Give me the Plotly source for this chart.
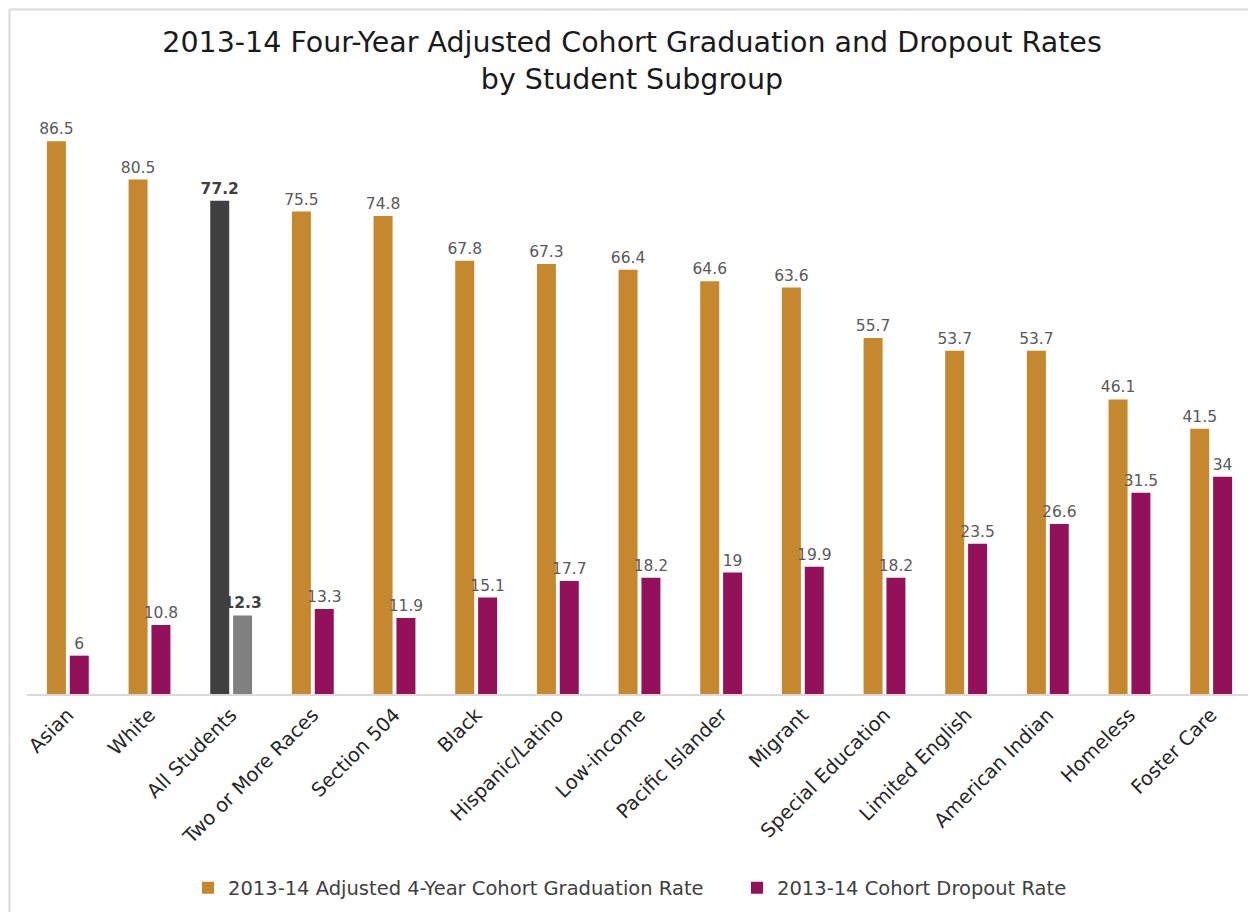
import plotly.graph_objects as go

categories = ["Asian", "White", "All Students", "Two or More Races", "Section 504", "Black",
              "Hispanic/Latino", "Low-income", "Pacific Islander", "Migrant",
              "Special Education", "Limited English", "American Indian", "Homeless", "Foster Care"]
grad_rate = [86.5, 80.5, 77.2, 75.5, 74.8, 67.8, 67.3, 66.4, 64.6, 63.6, 55.7, 53.7, 53.7, 46.1, 41.5]
dropout_rate = [6, 10.8, 12.3, 13.3, 11.9, 15.1, 17.7, 18.2, 19, 19.9, 18.2, 23.5, 26.6, 31.5, 34]
highlight = "All Students"

GOLD = "#C6882E"
PURPLE = "#93115A"
FONT = "DejaVu Sans"

# page body has an 8px margin; figure sized to fit the window
W, H = 1248, 904
L, R, T, B = 19, 4, 47, 218
PW, PH = W - L - R, H - T - B

def px_x(px):
    return (px - L) / PW

def px_y(py):
    return (H - B - py) / PH

def fmt(v):
    return f"{v:g}"

grad_colors = ["#404040" if c == highlight else GOLD for c in categories]
drop_colors = ["#808080" if c == highlight else PURPLE for c in categories]
grad_text = [f"<b>{fmt(v)}</b>" if c == highlight else fmt(v) for c, v in zip(categories, grad_rate)]
drop_text = [f"<b>{fmt(v)}</b>" if c == highlight else fmt(v) for c, v in zip(categories, dropout_rate)]
text_colors = ["#404040" if c == highlight else "#595959" for c in categories]

fig = go.Figure()
fig.add_trace(go.Bar(
    x=categories, y=grad_rate, name="2013-14 Adjusted 4-Year Cohort Graduation Rate",
    marker=dict(color=grad_colors, line=dict(width=0)),
    text=grad_text, textposition="outside", cliponaxis=False, constraintext="none",
    textfont=dict(size=15.5, color=text_colors, family=FONT),
    legend="legend",
))
fig.add_trace(go.Bar(
    x=categories, y=dropout_rate, name="2013-14 Cohort Dropout Rate",
    marker=dict(color=drop_colors, line=dict(width=0)),
    text=drop_text, textposition="outside", cliponaxis=False, constraintext="none",
    textfont=dict(size=15.5, color=text_colors, family=FONT),
    legend="legend2",
))

legend_common = dict(
    orientation="h", xanchor="left", yanchor="middle",
    font=dict(size=19.5, color="#404040", family=FONT),
    bgcolor="rgba(0,0,0,0)", borderwidth=0, itemwidth=30,
)

fig.update_layout(
    width=W, height=H,
    margin=dict(l=L, r=R, t=T, b=B, autoexpand=False),
    paper_bgcolor="white", plot_bgcolor="white",
    barmode="group", bargap=0.44, bargroupgap=0.17,
    font=dict(family=FONT, color="#262626"),
    title=dict(
        text="2013-14 Four-Year Adjusted Cohort Graduation and Dropout Rates<br>by Student Subgroup",
        x=0.5, xanchor="center", xref="container",
        y=1 - 44 / H, yanchor="top", yref="container",
        font=dict(size=28.5, color="#1a1a1a", family=FONT),
    ),
    xaxis=dict(
        tickangle=-45, tickfont=dict(size=19.5, color="#262626", family=FONT),
        showline=True, linecolor="#d9d9d9", linewidth=1.5, ticks="",
        showgrid=False, automargin=False,
    ),
    yaxis=dict(range=[0, 100], visible=False, showgrid=False, zeroline=False, automargin=False),
    showlegend=True,
    legend=dict(legend_common, x=px_x(180), y=px_y(880)),
    legend2=dict(legend_common, x=px_x(729), y=px_y(880)),
    shapes=[
        dict(type="line", xref="paper", yref="paper",
             x0=px_x(1.5), x1=px_x(1.5), y0=px_y(960), y1=px_y(1.5),
             line=dict(color="#d9d9d9", width=2), layer="above"),
        dict(type="line", xref="paper", yref="paper",
             x0=px_x(1.5), x1=px_x(1300), y0=px_y(1.5), y1=px_y(1.5),
             line=dict(color="#d9d9d9", width=2), layer="above"),
    ],
)

fig.write_html("out.html")
